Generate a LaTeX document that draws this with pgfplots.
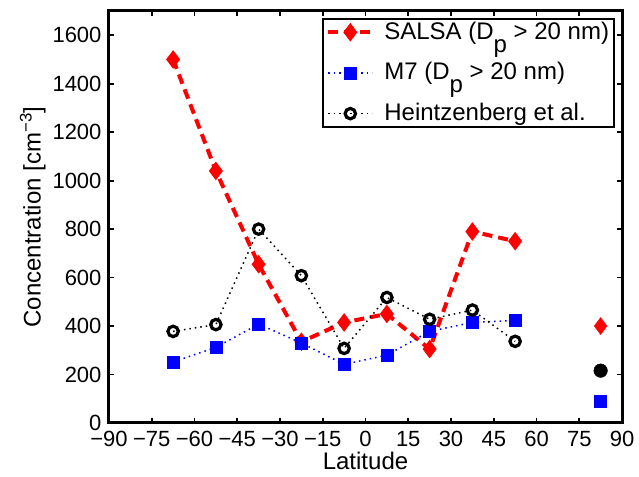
\documentclass[border=0pt]{standalone}
\usepackage{fontspec}
\setmainfont{Liberation Sans}
\usepackage{pgfplots}
\pgfplotsset{compat=1.18}

% lat / concentration
\pgfplotstableread{
x y
-67.5 1500
-52.5 1040
-37.5 655
-22.5 335
-7.5 415
7.5 450
22.5 305
37.5 790
52.5 750
}\salsa
\pgfplotstableread{
x y
-67.5 252
-52.5 312
-37.5 408
-22.5 330
-7.5 242
7.5 280
22.5 378
37.5 415
52.5 423
}\msev
\pgfplotstableread{
x y
-67.5 378
-52.5 406
-37.5 800
-22.5 608
-7.5 308
7.5 518
22.5 428
37.5 466
52.5 337
}\heintz

\newcommand{\sub}[1]{\raisebox{-13pt}{#1}}

\begin{document}
\fontsize{22}{26}\selectfont
\begin{tikzpicture}
\begin{axis}[
  scale only axis, width=513pt, height=412pt,
  xmin=-90, xmax=90, ymin=0, ymax=1700,
  xtick={-90,-75,...,90},
  xticklabels={−90,−75,−60,−45,−30,−15,0,15,30,45,60,75,90},
  ytick={0,200,...,1600},
  /pgf/number format/assume math mode=true,
  /pgf/number format/1000 sep={},
  tick align=inside, major tick length=5pt,
  every tick/.style={black, line width=1.8pt},
  axis line style={line width=3pt},
  xlabel={Latitude}, ylabel={Concentration [cm\textsuperscript{−3}]},
  label style={font=\fontsize{24}{28}\selectfont},
  xlabel style={yshift=10pt}, ylabel style={yshift=-8pt},
  xticklabel style={yshift=-1pt},
  legend style={at={(rel axis cs:1,1)}, anchor=north east, xshift=-7pt, yshift=-7pt,
    font=\fontsize{24}{28}\selectfont,
    draw=black, line width=1.8pt, inner xsep=3pt, inner ysep=1pt,
    column sep=8pt, row sep=16pt,
    cells={anchor=west, inner sep=0pt}},
  legend image code/.code={%
    \draw[mark repeat=2, mark phase=2] plot coordinates {(5pt,0pt) (27pt,0pt) (49pt,0pt)};},
]
\addplot[red, line width=4pt, dash pattern=on 10pt off 6pt,
  mark=diamond*, mark size=8.5pt, mark options={solid, fill=red, line width=1pt}]
  table {\salsa};
\addlegendentry{SALSA (D\sub{p} > 20 nm)}
\addplot[blue, line width=1.5pt, dash pattern=on 1.5pt off 4pt,
  mark=square*, mark size=6pt, mark options={solid, fill=blue, line width=0.5pt}]
  table {\msev};
\addlegendentry{M7 (D\sub{p} > 20 nm)}
\addplot[black, line width=1.5pt, dash pattern=on 1.5pt off 4pt,
  mark=o, mark size=5.2pt, mark options={solid, line width=3.2pt}]
  table {\heintz};
\addlegendentry{Heintzenberg et al.}
\addplot[only marks, red, mark=diamond*, mark size=8.5pt, mark options={fill=red}, forget plot]
  coordinates {(82.5,400)};
\addplot[only marks, blue, mark=square*, mark size=6pt, mark options={fill=blue}, forget plot]
  coordinates {(82.5,92)};
\addplot[only marks, black, mark=*, mark size=6.8pt, mark options={fill=black}, forget plot]
  coordinates {(82.5,216)};
\end{axis}
\pgfresetboundingbox
\useasboundingbox ([xshift=-109pt,yshift=-54pt]current axis.south west) rectangle ([xshift=17pt,yshift=11pt]current axis.north east);
\end{tikzpicture}
\end{document}
